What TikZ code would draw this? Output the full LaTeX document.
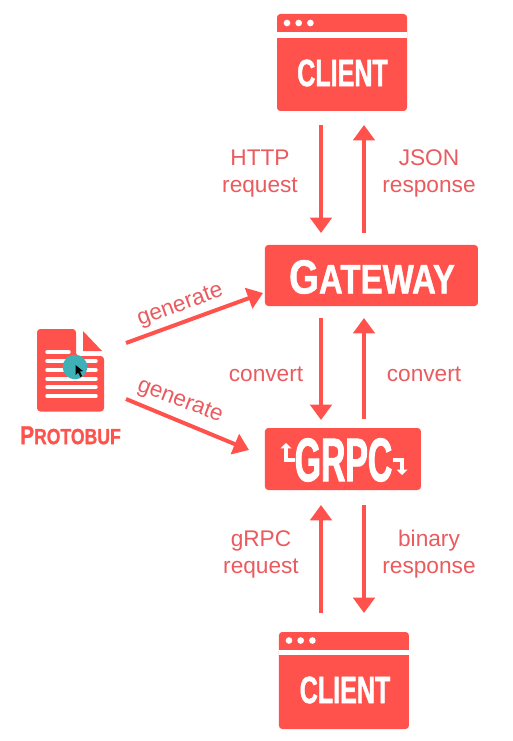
\documentclass[tikz,border=0pt]{standalone}
\usepackage{fontspec}
\setmainfont{Liberation Sans}
\newfontfamily\titlefont[FakeStretch=0.66,FakeBold=1.2]{Liberation Sans Bold}
\newfontfamily\gatewayfont[FakeStretch=0.8,FakeBold=1]{Liberation Sans Bold}
\newfontfamily\grpcfont[FakeStretch=0.55,FakeBold=1.5]{Liberation Sans Bold}
\usepackage{xcolor}
\usetikzlibrary{arrows.meta}
\usetikzlibrary{positioning}
\definecolor{boxred}{HTML}{FF524C}
\definecolor{labelred}{HTML}{EA5A5E}
\definecolor{cursorteal}{HTML}{3FB0B6}
\tikzset{>={Triangle[width=16pt, length=11.5pt]}}
\tikzset{flow-line/.style={->, line width=3pt, color=boxred}}
\tikzset{logo-line/.style={-{Triangle[width=8pt, length=4pt]}, white, line width=2.8pt}}
\tikzset{red-box/.style={fill=boxred, inner sep=0, outer sep=0, rounded corners=2.5pt}}
\tikzset{client-node/.style={red-box, minimum width=97.5pt, minimum height=72.75pt}}
\tikzset{flow-label/.style={color=labelred, align=center, font=\fontsize{17}{20.25}\selectfont}}
\tikzset{box-title/.style={color=white, inner sep=0, font=\titlefont\fontsize{28.5}{30}\selectfont}}
\tikzset{title-dot/.style={fill=white, circle, inner sep=0, minimum size=5pt}}
\tikzset{doc-line/.style={white, line width=2.6pt, line cap=round}}
\begin{document}
\begin{tikzpicture}[x=0.75pt, y=-0.75pt]
            \useasboundingbox (0,0) rectangle (513,741);

            % boxes
            \node[client-node] (client1) at (342,62.5) {};
            \node[red-box, minimum width=159.75pt, minimum height=45.75pt, below=100.5pt of client1.south, xshift=22.1pt] (gateway) {};
            \node[red-box, minimum width=117pt, minimum height=46.5pt, below=91.5pt of gateway.south, xshift=-21.4pt] (grpc) {};
            \node[client-node, below=106.5pt of grpc.south, xshift=0.75pt] (client2) {};

            % window bars
            \fill[white] ([yshift=-13.5pt]client1.north west) rectangle ([yshift=-18pt]client1.north east);
            \fill[white] ([yshift=-13.5pt]client2.north west) rectangle ([yshift=-17.5pt]client2.north east);
            \foreach \i in {0,1,2} {
                \node[title-dot] at (287+\i*11.7,23) {};
                \node[title-dot] at (289+\i*11.7,640.5) {};
            }

            % titles
            \node[box-title] (client1text) at (342.5,73) {CLIENT};
            \node[box-title] (client2text) at (345,690) {CLIENT};
            \node[box-title, font=\gatewayfont\fontsize{31}{32}\selectfont] (gatewaytext) at (372,277) {{\fontsize{36}{32}\selectfont G}ATEWAY};
            \node[box-title, font=\grpcfont\fontsize{46}{48}\selectfont] (grpctext) at (343.5,460) {GRPC};

            % little arrows of the grpc logo
            \coordinate (logoL) at (286,443);
            \coordinate (logoR) at (402,475);
            \draw[logo-line] (grpctext.west) -- (grpctext.west -| logoL) -- (logoL);
            \draw[logo-line] (grpctext.east) -- (grpctext.east -| logoR) -- (logoR);

            % protobuf file
            \fill[boxred, rounded corners=2.5pt] (37,329) -- (76,329) -- (76,356) -- (104,356) -- (104,411.5) -- (37,411.5) -- cycle;
            \fill[boxred] (83,331) -- (102,351) -- (83,351) -- cycle;
            \coordinate (file) at (70.5,370);
            \draw[doc-line] (47,352) -- (69,352);
            \foreach \y in {361,370,379,387,396} {
                \draw[doc-line] (47,\y) -- (96,\y);
            }
            \node[box-title, color=boxred, font=\gatewayfont\fontsize{16.5}{18}\selectfont, below=42pt of file] (protobuf) {{\fontsize{19.5}{18}\selectfont P}ROTOBUF};

            % pointer
            \node[fill=cursorteal, circle, inner sep=0, minimum size=18.5pt] (pointer) at (75,367) {};
            \fill[black] (75.5,365) -- (75.5,375) -- (78,372.5) -- (80.5,377) -- (82,376) -- (80,371.5) -- (83,371) -- cycle;

            % columns of the arrows
            \coordinate (colL) at (321,0);
            \coordinate (colR) at (364,0);

            \draw[flow-line, shorten <=10.5pt, shorten >=9pt] (client1.south -| colL) -- (gateway.north -| colL);
            \draw[flow-line, shorten <=9pt, shorten >=10.5pt] (gateway.north -| colR) -- (client1.south -| colR);

            \draw[flow-line, shorten <=9pt, shorten >=6pt] (gateway.south -| colL) -- (grpc.north -| colL);
            \draw[flow-line, shorten <=6.75pt, shorten >=9pt] (grpc.north -| colR) -- (gateway.south -| colR);

            \draw[flow-line, shorten <=14.25pt, shorten >=11.25pt] (client2.north -| colL) -- (grpc.south -| colL);
            \draw[flow-line, shorten <=11.25pt, shorten >=14.25pt] (grpc.south -| colR) -- (client2.north -| colR);

            % generate arrows
            \coordinate (genup) at (126,343);
            \coordinate (gendown) at (126,399);
            \coordinate (gatewayin) at (263,293);
            \coordinate (grpcin) at (249,450);
            \draw[flow-line] (genup) -- (gatewayin);
            \draw[flow-line] (gendown) -- (grpcin);

            % labels
            \node[flow-label] (httplabel) at (260,173.5) {HTTP\\request};
            \node[flow-label] (jsonlabel) at (429,173.5) {JSON\\response};
            \node[flow-label] (convertL) at (266,374) {convert};
            \node[flow-label] (convertR) at (424,374) {convert};
            \node[flow-label] (grpclabel) at (261,554.5) {gRPC\\request};
            \node[flow-label] (binarylabel) at (429,554.5) {binary\\response};
            \node[flow-label, rotate=20] (generateup) at (180.5,306) {generate};
            \node[flow-label, rotate=-21] (generatedown) at (180,401.5) {generate};

        \end{tikzpicture}
\end{document}
